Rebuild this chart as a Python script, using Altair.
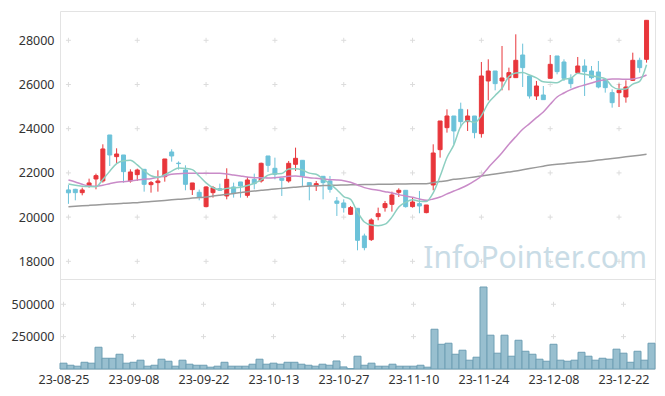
import altair as alt
import pandas as pd

# ---- data ----
opens = [21230, 21258, 21107, 21394, 21725, 21635, 23716, 22736, 22811, 21635,
         21922, 22163, 21469, 21560, 21831, 22947, 22440, 22132, 21243, 21122,
         20474, 21107, 21288, 20956, 21364, 21590, 20986, 21710, 21635, 22766,
         22208, 21755, 21635, 22389, 22570, 21560, 21409, 21846, 21635, 20730,
         20640, 20127, 20399, 19147, 18981, 20022, 20429, 20579, 21122, 21213,
         20474, 20610, 20203, 21454, 23052, 24047, 24575, 24877, 24319, 24575,
         23776, 26159, 26611, 26159, 26310, 26310, 27335, 26385, 25480, 25525,
         26280, 27290, 27018, 26280, 26536, 26837, 26611, 26566, 26234, 25631,
         25631, 25435, 26189, 27094, 27139]
highs = [21450, 21280, 21333, 21740, 21967, 23294, 23716, 23113, 22811, 22163,
         22193, 22163, 21635, 22118, 22630, 23068, 22520, 22344, 21545, 21243,
         21394, 21409, 21514, 22208, 21560, 21590, 21816, 21967, 22464, 22766,
         22690, 21755, 22540, 23143, 22570, 21560, 21635, 21846, 21861, 20911,
         20805, 20504, 20399, 19252, 19946, 20429, 20730, 21152, 21303, 21213,
         20881, 21183, 20549, 23294, 24349, 24877, 24575, 25178, 24877, 24575,
         27018, 27139, 26611, 27742, 26762, 28270, 27848, 26385, 26159, 25932,
         27335, 27290, 27139, 26460, 27244, 27139, 26837, 27064, 26234, 25782,
         26038, 26189, 27440, 27214, 28903]
lows = [20600, 20760, 20986, 21333, 21258, 21560, 22313, 22419, 21560, 21560,
        21635, 21152, 21107, 21152, 21604, 22509, 22150, 21213, 21001, 20760,
        20444, 20881, 21183, 20805, 20881, 20881, 20881, 21258, 21560, 22042,
        21710, 20957, 21560, 22087, 21409, 20760, 21183, 20805, 21107, 20052,
        20203, 20097, 18498, 18498, 18920, 19856, 20248, 20248, 20911, 20429,
        20429, 20173, 20173, 21213, 22690, 23822, 23294, 24047, 23897, 23565,
        23595, 25284, 25736, 25736, 25736, 26310, 25887, 25360, 25299, 25314,
        26280, 26460, 26159, 25827, 26536, 25480, 26234, 25827, 25631, 24952,
        24982, 25178, 26159, 26536, 26988]
closes = [21100, 21107, 21228, 21545, 21876, 23083, 22811, 22856, 22057, 22042,
          22132, 21484, 21560, 21635, 22630, 22766, 22420, 21484, 21545, 20911,
          21364, 21333, 21213, 21710, 21062, 21409, 21680, 21514, 22434, 22344,
          21937, 21665, 22434, 22660, 21861, 21409, 21514, 21560, 21258, 20625,
          20429, 20429, 18951, 18619, 19871, 20157, 20610, 21001, 21213, 20474,
          20685, 20504, 20549, 22901, 24349, 24575, 23897, 24319, 24575, 23822,
          26385, 26611, 26038, 26294, 26535, 27094, 26762, 25480, 25932, 25314,
          26913, 26581, 26280, 26038, 26837, 26581, 26310, 25887, 25857, 25178,
          25736, 25887, 27094, 26762, 28903]
volumes = [45000, 29000, 21600, 52000, 45000, 168000, 83000, 83000, 114000, 45000,
           52000, 68000, 21600, 29000, 75600, 60000, 21600, 68000, 37000, 29000,
           29000, 14000, 21600, 52000, 21600, 21600, 21600, 37000, 75600, 37000,
           45000, 37000, 52000, 52000, 37000, 29000, 21600, 37000, 29000, 62000,
           16000, 3000, 98800, 29000, 45000, 21600, 21600, 37000, 21600, 21600,
           21600, 29000, 14000, 307000, 191000, 199000, 114000, 145000, 68000, 91000,
           633000, 261000, 122000, 261000, 98800, 222000, 137000, 114000, 75600, 60000,
           191000, 68000, 60000, 68000, 129000, 98800, 68000, 83000, 75600, 153000,
           122000, 52000, 137000, 68000, 199000]
ma5 = [21500, 21440, 21400, 21380, 21375, 21700, 22080, 22420, 22550, 22570,
       22360, 22090, 21870, 21800, 21920, 22080, 22220, 22200, 22150, 21860,
       21550, 21330, 21250, 21300, 21320, 21350, 21430, 21530, 21680, 21900,
       21960, 21970, 22180, 22190, 22130, 21990, 21940, 21720, 21500, 21240,
       20930, 20800, 20230, 19780, 19640, 19610, 19680, 20000, 20460, 20670,
       20780, 20720, 20710, 21100, 21850, 22700, 23270, 24100, 24360, 24280,
       24590, 25160, 25500, 25830, 26360, 26520, 26540, 26430, 26300, 26120,
       26100, 26080, 26240, 26280, 26510, 26460, 26400, 26335, 26260, 25910,
       25790, 25800, 26020, 26140, 26890]
ma20 = [21680, 21590, 21484, 21409, 21394, 21439, 21514, 21575, 21605, 21635,
        21680, 21710, 21740, 21801, 21861, 21936, 21967, 21982, 21982, 21982,
        21982, 21982, 21982, 21951, 21906, 21861, 21816, 21786, 21786, 21771,
        21786, 21816, 21846, 21861, 21831, 21786, 21755, 21725, 21695, 21680,
        21650, 21575, 21454, 21333, 21258, 21213, 21152, 21092, 21017, 20956,
        20896, 20820, 20760, 20820, 20911, 21050, 21183, 21303, 21454, 21635,
        21861, 22238, 22570, 22917, 23294, 23640, 23972, 24229, 24500, 24757,
        25103, 25435, 25616, 25767, 25887, 25978, 26068, 26159, 26219, 26249,
        26249, 26234, 26249, 26310, 26430]
ma120 = [20470, 20490, 20510, 20530, 20550, 20570, 20590, 20610, 20625, 20640,
         20652, 20680, 20705, 20730, 20755, 20780, 20805, 20830, 20860, 20885,
         20910, 20950, 20990, 21030, 21070, 21110, 21150, 21180, 21213, 21240,
         21270, 21300, 21330, 21355, 21380, 21407, 21415, 21425, 21435, 21445,
         21452, 21460, 21466, 21472, 21478, 21484, 21488, 21492, 21496, 21500,
         21504, 21507, 21510, 21560, 21610, 21650, 21710, 21740, 21775, 21815,
         21860, 21905, 21950, 21995, 22040, 22085, 22140, 22195, 22250, 22305,
         22357, 22387, 22417, 22447, 22477, 22508, 22544, 22580, 22616, 22652,
         22689, 22727, 22765, 22803, 22840]

tick_index = [0, 10, 20, 30, 40, 50, 60, 70, 80]
tick_labels = ["23-08-25", "23-09-08", "23-09-22", "23-10-13", "23-10-27",
               "23-11-10", "23-11-24", "23-12-08", "23-12-22"]
price_ticks = [18000, 20000, 22000, 24000, 26000, 28000]
volume_ticks = [250000, 500000]

UP = "#e8363b"
DOWN = "#6cc2d9"
FONT = "Noto Sans"
FS = 12.5
W = 595

df = pd.DataFrame({
    "i": list(range(len(opens))), "open": opens, "high": highs, "low": lows,
    "close": closes, "volume": volumes, "ma5": ma5, "ma20": ma20, "ma120": ma120,
})

xscale = alt.Scale(domain=[-0.5, len(opens) - 0.5], nice=False, zero=False)
pscale = alt.Scale(domain=[17200, 29325], nice=False, zero=False)
vscale = alt.Scale(domain=[0, 695000], nice=False)

base = alt.Chart(df).transform_calculate(
    dir="datum.close >= datum.open ? 'up' : 'down'",
    v0="datum.i - 0.5", v1="datum.i + 0.5",
)
color = alt.Color("dir:N", scale=alt.Scale(domain=["up", "down"], range=[UP, DOWN]), legend=None)

yaxis_price = alt.Axis(values=price_ticks, ticks=False, domain=False, grid=False,
                       labelPadding=6, labelFontSize=FS, labelFont=FONT, labelColor="#333",
                       format="d", title=None)

# grid crosses
cross_price = pd.DataFrame([(x, y) for x in tick_index for y in price_ticks], columns=["x", "y"])
cross_vol = pd.DataFrame([(x, y) for x in tick_index for y in volume_ticks], columns=["x", "y"])
cross_shape = "M-1,0L1,0M0,-1L0,1"

pc = alt.Chart(cross_price).mark_point(shape=cross_shape, size=25, filled=False,
                                        color="#dcdcdc", strokeWidth=1, opacity=1).encode(
    x=alt.X("x:Q", scale=xscale, axis=None),
    y=alt.Y("y:Q", scale=pscale, axis=yaxis_price),
)

wm = alt.Chart(pd.DataFrame({"t": ["InfoPointer.com"]})).mark_text(
    align="right", baseline="alphabetic", font=FONT, fontSize=30, color="#c9dce6"
).encode(text="t:N", x=alt.value(587), y=alt.value(257))

wicks = base.mark_rule(strokeWidth=1).encode(
    x=alt.X("i:Q", scale=xscale, axis=None),
    y=alt.Y("low:Q", scale=pscale, axis=yaxis_price),
    y2="high:Q",
    color=color,
)
bodies = base.mark_bar(width=4, strokeWidth=1).encode(
    x=alt.X("i:Q", scale=xscale, axis=None),
    y=alt.Y("open:Q", scale=pscale, axis=yaxis_price),
    y2="close:Q",
    color=color,
    stroke=alt.Stroke("dir:N", scale=alt.Scale(domain=["up", "down"], range=[UP, DOWN]), legend=None),
)

def ma_line(field, col):
    return alt.Chart(df).mark_line(color=col, strokeWidth=1.5, interpolate="monotone").encode(
        x=alt.X("i:Q", scale=xscale, axis=None),
        y=alt.Y(f"{field}:Q", scale=pscale, axis=yaxis_price),
    )

price = alt.layer(
    pc, wm, wicks, bodies,
    ma_line("ma120", "#9a9a9a"), ma_line("ma20", "#c98bc8"), ma_line("ma5", "#8dcfc1"),
).properties(width=W, height=268)

label_expr = "[" + ",".join(f"'{t}'" for t in tick_labels) + "][datum.value/10]"
xaxis = alt.Axis(values=tick_index, labelExpr=label_expr, ticks=False, domain=False, grid=False,
                 labelPadding=4, labelFontSize=FS, labelFont=FONT, labelColor="#333", title=None)
yaxis_vol = alt.Axis(values=volume_ticks, ticks=False, domain=False, grid=False,
                     labelPadding=6, labelFontSize=FS, labelFont=FONT, labelColor="#333",
                     format="d", title=None)

vc = alt.Chart(cross_vol).mark_point(shape=cross_shape, size=25, filled=False,
                                      color="#dcdcdc", strokeWidth=1, opacity=1).encode(
    x=alt.X("x:Q", scale=xscale, axis=xaxis),
    y=alt.Y("y:Q", scale=vscale, axis=yaxis_vol),
)
vbars = base.mark_bar(color="#98bfcf", stroke="#6e9fb4", strokeWidth=1).encode(
    x=alt.X("v0:Q", scale=xscale, axis=xaxis),
    x2="v1:Q",
    y=alt.Y("volume:Q", scale=vscale, axis=yaxis_vol),
    y2=alt.datum(0),
)
volume = alt.layer(vc, vbars).properties(width=W, height=90)

chart = alt.vconcat(price, volume, spacing=0, bounds="flush").properties(
    padding={"left": 2, "top": 2, "right": 0, "bottom": 0},
    background="white",
).configure_view(stroke="#e3e3e3", strokeWidth=1)

chart.save("out.html", embed_options={"renderer": "svg", "actions": False})
